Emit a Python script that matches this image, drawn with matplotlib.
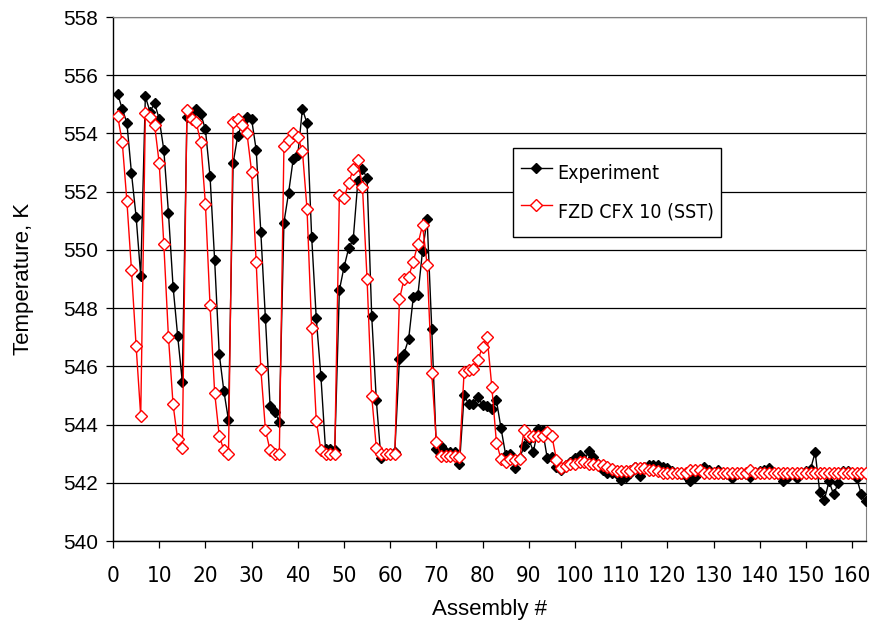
import numpy as np
import matplotlib
matplotlib.use("Agg")
import matplotlib.pyplot as plt
from matplotlib import font_manager

# assembly number 1..163
assembly = np.arange(1, 164)

# measured outlet temperature, K
experiment = [
    555.36, 554.84, 554.37, 552.63, 551.14, 549.10, 555.27, 554.75, 555.04, 554.50,
    553.43, 551.28, 548.74, 547.04, 545.47, 554.55, 554.70, 554.83, 554.67, 554.14,
    552.54, 549.65, 546.42, 545.15, 544.15, 552.98, 553.92, 554.35, 554.58, 554.49,
    553.43, 550.60, 547.65, 544.65, 544.44, 544.10, 550.94, 551.95, 553.11, 553.26,
    554.84, 554.35, 550.46, 547.65, 545.67, 543.15, 543.15, 543.13, 548.62, 549.40,
    550.05, 550.36, 552.35, 552.77, 552.46, 547.74, 544.84, 542.84, 543.00, 543.00,
    543.07, 546.24, 546.44, 546.94, 548.37, 548.45, 549.96, 551.05, 547.30, 543.15,
    543.26, 543.07, 543.07, 543.07, 542.64, 545.00, 544.71, 544.71, 544.96, 544.66,
    544.64, 544.53, 544.83, 543.87, 542.96, 543.00, 542.52, 542.85, 543.25, 543.50,
    543.07, 543.85, 543.80, 542.85, 542.88, 542.55, 542.45, 542.60, 542.70, 542.85,
    542.95, 542.75, 543.10, 542.90, 542.65, 542.45, 542.35, 542.35, 542.30, 542.10,
    542.20, 542.35, 542.55, 542.25, 542.55, 542.60, 542.60, 542.60, 542.55, 542.50,
    542.40, 542.35, 542.30, 542.25, 542.05, 542.20, 542.40, 542.55, 542.45, 542.35,
    542.45, 542.30, 542.30, 542.15, 542.30, 542.30, 542.30, 542.20, 542.35, 542.40,
    542.45, 542.50, 542.35, 542.30, 542.05, 542.15, 542.30, 542.15, 542.35, 542.42,
    542.47, 543.05, 541.67, 541.42, 542.05, 541.60, 542.00, 542.42, 542.42, 542.35,
    542.15, 541.60, 541.36,
]

# CFX 10 (SST) prediction, K
cfx_sst = [
    554.60, 553.70, 551.68, 549.30, 546.70, 544.29, 554.69, 554.58, 554.29, 552.98,
    550.19, 547.01, 544.69, 543.49, 543.18, 554.79, 554.51, 554.38, 553.70, 551.58,
    548.11, 545.10, 543.61, 543.12, 542.98, 554.38, 554.49, 554.29, 554.00, 552.69,
    549.57, 545.90, 543.81, 543.12, 543.00, 543.00, 553.57, 553.78, 554.00, 553.89,
    553.40, 551.40, 547.31, 544.13, 543.13, 543.00, 543.00, 543.00, 551.88, 551.77,
    552.29, 552.78, 553.09, 552.17, 548.99, 544.98, 543.20, 543.00, 543.00, 543.00,
    543.00, 548.30, 549.00, 549.08, 549.60, 550.20, 550.85, 549.48, 545.78, 543.41,
    542.92, 542.92, 542.92, 542.92, 542.90, 545.79, 545.88, 545.90, 546.22, 546.68,
    547.00, 545.30, 543.38, 542.81, 542.73, 542.81, 542.79, 542.81, 543.82, 543.61,
    543.61, 543.61, 543.61, 543.73, 543.61, 542.79, 542.50, 542.56, 542.65, 542.65,
    542.72, 542.72, 542.64, 542.64, 542.62, 542.62, 542.54, 542.49, 542.42, 542.42,
    542.42, 542.42, 542.50, 542.50, 542.50, 542.45, 542.45, 542.42, 542.32, 542.32,
    542.32, 542.32, 542.32, 542.32, 542.45, 542.45, 542.45, 542.32, 542.32, 542.32,
    542.32, 542.32, 542.32, 542.32, 542.32, 542.32, 542.32, 542.45, 542.32, 542.32,
    542.32, 542.32, 542.32, 542.32, 542.32, 542.32, 542.32, 542.32, 542.32, 542.32,
    542.32, 542.32, 542.32, 542.32, 542.32, 542.32, 542.32, 542.32, 542.32, 542.32,
    542.32, 542.32, 542.32,
]

x_ticks = np.arange(0, 161, 10)
y_ticks = np.arange(540, 559, 2)


def narrow_font():
    # the original uses a condensed face for x ticks / legend; take one if installed
    for fam, stretch in [('Liberation Sans Narrow', 'normal'), ('Arial Narrow', 'normal'),
                         ('DejaVu Sans', 'condensed')]:
        fp = font_manager.FontProperties(family=fam, stretch=stretch)
        try:
            path = font_manager.findfont(fp, fallback_to_default=False)
        except ValueError:
            continue
        name = path.lower()
        if 'narrow' in name or 'condensed' in name:
            return fp
    return None


plt.rcParams['font.family'] = ['Liberation Sans', 'DejaVu Sans']
nf = narrow_font()

fig = plt.figure(figsize=(8.72, 6.21), dpi=100)
ax = fig.add_axes([0.1296, 0.1288, 0.8635, 0.8438])

ax.plot(assembly, experiment, color='black', lw=1.0, marker='D', ms=4.8,
        mfc='black', mec='black', label='Experiment', zorder=3)
ax.plot(assembly, cfx_sst, color='#ff0000', lw=1.0, marker='D', ms=6.5,
        mfc='white', mec='#ff0000', mew=1.0, label='FZD CFX 10 (SST)', zorder=4)

ax.set_xlim(0, 163)
ax.set_ylim(540, 558)
ax.set_xticks(x_ticks)
ax.set_yticks(y_ticks)
ax.yaxis.grid(True, color='black', lw=0.9)
ax.set_axisbelow(True)

for s in ['top', 'right']:
    ax.spines[s].set_color('#808080')
for s in ['left', 'bottom']:
    ax.spines[s].set_color('black')
    ax.spines[s].set_linewidth(1.0)

ax.tick_params(axis='both', direction='out', length=5, width=0.9, color='black')
ax.tick_params(axis='y', labelsize=15, pad=6)
ax.tick_params(axis='x', labelsize=15, pad=13)
if nf is not None:
    for lab in ax.get_xticklabels():
        lab.set_fontproperties(nf)
        lab.set_fontsize(16)

ax.set_xlabel('Assembly #', fontsize=16, labelpad=9)
ax.set_ylabel('Temperature, K', fontsize=16, labelpad=21)

if nf is not None:
    leg_prop = nf.copy()
    leg_prop.set_size(14)
else:
    leg_prop = font_manager.FontProperties(size=12.5)

# legend box: upper-left corner placed where the reference has it
leg = ax.legend(loc='upper left', bbox_to_anchor=(0.531, 0.750), borderaxespad=0,
                prop=leg_prop, frameon=True, fancybox=False, edgecolor='black',
                framealpha=1, handlelength=1.6, handleheight=2.42, handletextpad=0.3,
                borderpad=0.4, labelspacing=0.13)
leg.get_frame().set_linewidth(1.0)

fig.savefig('out.png', dpi=100)
